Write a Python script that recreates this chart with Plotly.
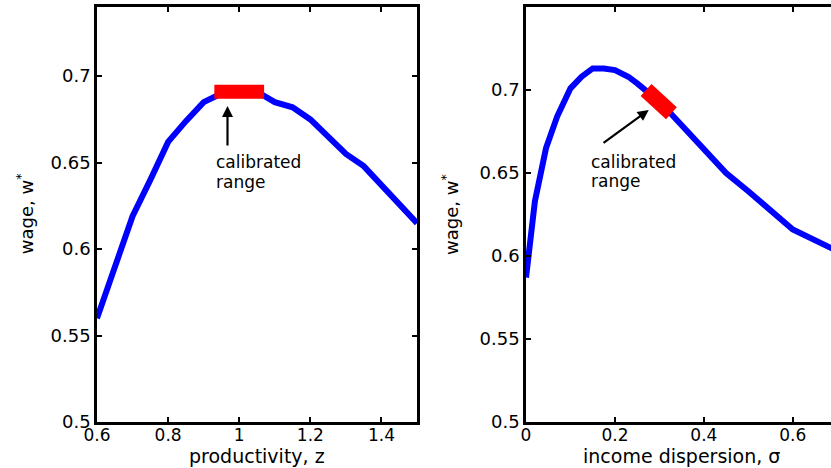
import plotly.graph_objects as go

# Left panel: wage vs productivity
z_vals = [0.6, 0.65, 0.7, 0.75, 0.8, 0.85, 0.9, 0.95, 1.0, 1.05, 1.1, 1.15, 1.2, 1.25, 1.3, 1.35, 1.4, 1.45, 1.5]
w_z = [0.560, 0.590, 0.619, 0.640, 0.662, 0.674, 0.685, 0.690, 0.691, 0.691, 0.685, 0.682, 0.675, 0.665, 0.655, 0.648, 0.637, 0.627, 0.615]
calib_z = [0.93, 1.07]
calib_wz = [0.691, 0.691]

# Right panel: wage vs income dispersion
s_vals = [0.0, 0.02, 0.045, 0.07, 0.1, 0.125, 0.15, 0.175, 0.2, 0.23, 0.25, 0.275, 0.3, 0.325, 0.35, 0.4, 0.45, 0.5, 0.55, 0.6, 0.7]
w_s = [0.587, 0.633, 0.665, 0.684, 0.701, 0.708, 0.713, 0.713, 0.712, 0.708, 0.704, 0.699, 0.693, 0.686, 0.679, 0.664, 0.650, 0.639, 0.627, 0.616, 0.603]
calib_s = [0.27, 0.30, 0.327]
calib_ws = [0.700, 0.693, 0.686]

x1_ticks = [0.6, 0.8, 1.0, 1.2, 1.4]
x1_text = ["0.6", "0.8", "1", "1.2", "1.4"]
x2_ticks = [0.0, 0.2, 0.4, 0.6]
x2_text = ["0", "0.2", "0.4", "0.6"]
y_ticks = [0.5, 0.55, 0.6, 0.65, 0.7]
y_text = ["0.5", "0.55", "0.6", "0.65", "0.7"]

FONT = "DejaVu Sans"
BLUE = "rgb(0,0,255)"
RED = "rgb(255,0,0)"

fig = go.Figure()
fig.add_trace(go.Scatter(x=z_vals, y=w_z, mode="lines", line=dict(color=BLUE, width=6),
                         xaxis="x", yaxis="y", showlegend=False))
fig.add_trace(go.Scatter(x=calib_z, y=calib_wz, mode="lines", line=dict(color=RED, width=14),
                         xaxis="x", yaxis="y", showlegend=False))
fig.add_trace(go.Scatter(x=s_vals, y=w_s, mode="lines", line=dict(color=BLUE, width=6),
                         xaxis="x2", yaxis="y2", showlegend=False))
fig.add_trace(go.Scatter(x=calib_s, y=calib_ws, mode="lines", line=dict(color=RED, width=16),
                         xaxis="x2", yaxis="y2", showlegend=False))

axis_common = dict(showgrid=False, zeroline=False, showline=True, linecolor="black", linewidth=2.5,
                   ticks="inside", ticklen=5, tickwidth=2, tickcolor="black",
                   tickfont=dict(family=FONT, size=18, color="black"))
xaxis_extra = dict(tickfont=dict(family=FONT, size=17, color="black"), ticklabelstandoff=-4)

fig.update_layout(
    width=831, height=468,
    margin=dict(l=97, r=0, t=7, b=46),
    paper_bgcolor="white", plot_bgcolor="white",
    xaxis=dict(domain=[0, 0.436], range=[0.6, 1.5], tickvals=x1_ticks, ticktext=x1_text,
               mirror="ticks", anchor="y", **{**axis_common, **xaxis_extra}),
    yaxis=dict(range=[0.5, 0.74], tickvals=y_ticks, ticktext=y_text, mirror="ticks",
               anchor="x", **axis_common),
    xaxis2=dict(domain=[0.5845, 1], range=[0, 0.686], tickvals=x2_ticks, ticktext=x2_text,
                mirror="ticks", anchor="y2", **{**axis_common, **xaxis_extra}),
    yaxis2=dict(range=[0.5, 0.75], tickvals=y_ticks, ticktext=y_text, mirror=False,
                anchor="x2", **axis_common),
)

ann_font = dict(family=FONT, size=17, color="black")
title_font = dict(family=FONT, size=19, color="black")

annotations = [
    # left arrow + label
    dict(x=0.967, y=0.6827, ax=0.967, ay=0.659, xref="x", yref="y", axref="x", ayref="y",
         text="", showarrow=True, arrowhead=2, arrowsize=1, arrowwidth=2.2, arrowcolor="black", standoff=0),
    dict(x=0.93, y=0.6503, xref="x", yref="y", text="calibrated", showarrow=False,
         xanchor="left", yanchor="middle", font=ann_font),
    dict(x=0.93, y=0.6387, xref="x", yref="y", text="range", showarrow=False,
         xanchor="left", yanchor="middle", font=ann_font),
    # right arrow + label
    dict(x=0.276, y=0.688, ax=0.171, ay=0.6675, xref="x2", yref="y2", axref="x2", ayref="y2",
         text="", showarrow=True, arrowhead=2, arrowsize=1, arrowwidth=2.2, arrowcolor="black", standoff=0),
    dict(x=0.142, y=0.6566, xref="x2", yref="y2", text="calibrated", showarrow=False,
         xanchor="left", yanchor="middle", font=ann_font),
    dict(x=0.142, y=0.6452, xref="x2", yref="y2", text="range", showarrow=False,
         xanchor="left", yanchor="middle", font=ann_font),
    # axis titles
    dict(x=0.218, y=-0.1108, xref="paper", yref="paper", text="productivity, z", showarrow=False,
         xanchor="center", yanchor="bottom", borderpad=0, font=title_font),
    dict(x=0.797, y=-0.1108, xref="paper", yref="paper", text="income dispersion, σ", showarrow=False,
         xanchor="center", yanchor="bottom", borderpad=0, font=title_font),
    dict(x=-0.098, y=0.501, xref="paper", yref="paper", text="wage, w<sup>*</sup>", showarrow=False,
         textangle=-90, xanchor="center", yanchor="middle", font=dict(family=FONT, size=18, color="black")),
    dict(x=0.481, y=0.499, xref="paper", yref="paper", text="wage, w<sup>*</sup>", showarrow=False,
         textangle=-90, xanchor="center", yanchor="middle", font=dict(family=FONT, size=18, color="black")),
]
fig.update_layout(annotations=annotations)

fig.write_html("out.html")
